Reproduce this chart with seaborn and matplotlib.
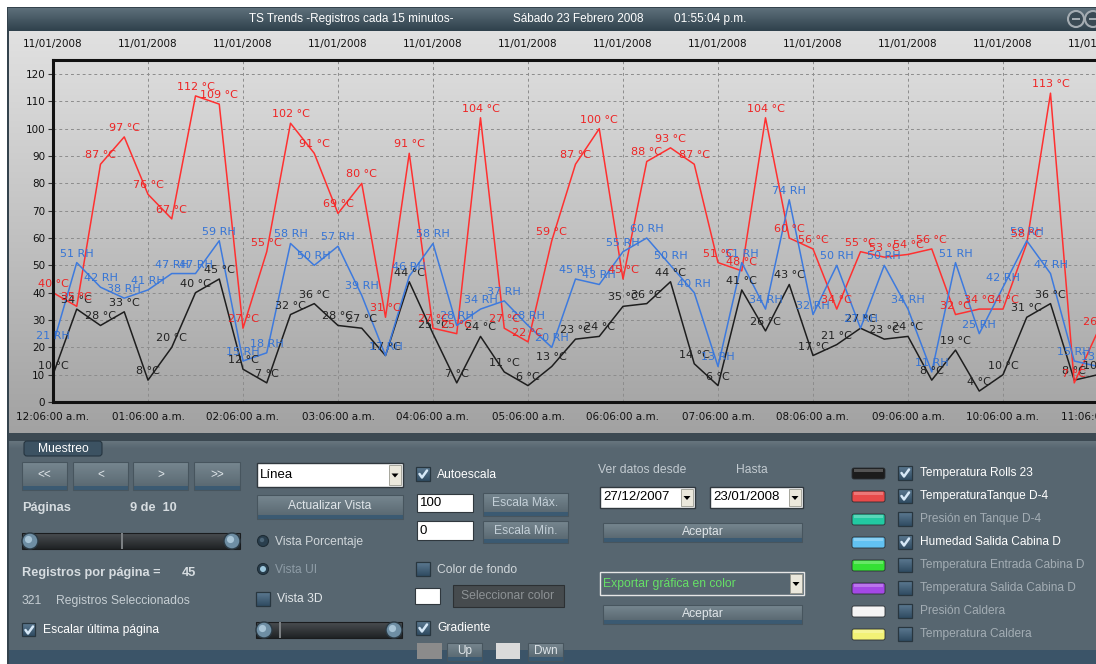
import numpy as np
import pandas as pd
import matplotlib
matplotlib.use("Agg")
import matplotlib.pyplot as plt
import seaborn as sns
from matplotlib.patches import Rectangle, Circle, FancyBboxPatch
from matplotlib.colors import LinearSegmentedColormap

# ---------------- data ----------------
time_labels = ["12:06:00 a.m.", "01:06:00 a.m.", "02:06:00 a.m.", "03:06:00 a.m.",
               "04:06:00 a.m.", "05:06:00 a.m.", "06:06:00 a.m.", "07:06:00 a.m.",
               "08:06:00 a.m.", "09:06:00 a.m.", "10:06:00 a.m.", "11:06:00 a.m."]
date_label = "11/01/2008"
yticks_vals = [0, 10, 20, 30, 40, 50, 60, 70, 80, 90, 100, 110, 120]

temp_rolls = [10, 34, 28, 33, 8, 20, 40, 45, 12, 7, 32, 36, 28, 27, 17, 44, 25, 7, 24, 11,
              6, 13, 23, 24, 35, 36, 44, 14, 6, 41, 26, 43, 17, 21, 27, 23, 24, 8, 19, 4,
              10, 31, 36, 8, 10]
temp_tanque = [40, 35, 87, 97, 76, 67, 112, 109, 27, 55, 102, 91, 69, 80, 31, 91, 27, 25, 104, 27,
               22, 59, 87, 100, 45, 88, 93, 87, 51, 48, 104, 60, 56, 34, 55, 53, 54, 56, 32, 34,
               34, 58, 113, 7, 26]
humedad = [21, 51, 42, 38, 41, 47, 47, 59, 15, 18, 58, 50, 57, 39, 17, 46, 58, 28, 34, 37,
           28, 20, 45, 43, 55, 60, 50, 40, 13, 51, 34, 74, 32, 50, 27, 50, 34, 11, 51, 25,
           42, 59, 47, 15, 13]

legend_names = ["Temperatura Rolls 23", "TemperaturaTanque D-4", "Presión en Tanque D-4",
                "Humedad Salida Cabina D", "Temperatura Entrada Cabina D",
                "Temperatura Salida Cabina D", "Presión Caldera", "Temperatura Caldera"]
legend_checked = [True, True, False, True, False, False, False, False]
legend_colors = ["#1c1c1c", "#e84a4a", "#22c9a2", "#62c2f2", "#34e034", "#a448e6", "#f4f4f4", "#f2f276"]

# ---------------- style ----------------
sns.set_theme(style="white")
plt.rcParams['font.family'] = ['DejaVu Sans']
UI = ['Liberation Sans', 'DejaVu Sans']

W, H = 1096, 664
fig = plt.figure(figsize=(W / 100, H / 100), dpi=100, facecolor="white")

bg = fig.add_axes([0, 0, 1, 1], zorder=0)
bg.axis('off')


def vgrad(x0, y0, x1, y1, c_top, c_bot, z=1):
    cmap = LinearSegmentedColormap.from_list('g', [c_top, c_bot])
    grad = np.linspace(0, 1, 256).reshape(-1, 1)
    bg.imshow(grad, cmap=cmap, extent=(x0, x1, y1, y0), aspect='auto', zorder=z,
              interpolation='bilinear')


def rect(x0, y0, x1, y1, fc, ec='none', lw=0, z=2, alpha=1.0):
    bg.add_patch(Rectangle((x0, y0), x1 - x0, y1 - y0, fc=fc, ec=ec, lw=lw, zorder=z, alpha=alpha))


def txt(x, y, s, size=9, color='white', ha='left', weight='normal', z=5):
    bg.text(x, y, s, fontsize=size, color=color, ha=ha, va='center', fontweight=weight,
            family=UI, zorder=z)


def button(x0, y0, x1, y1, label, tcolor='#dfe5e9', size=9, fc_top='#778790', fc_bot='#5b6a73'):
    vgrad(x0, y0, x1, y1 - 4, fc_top, fc_bot, z=2)
    rect(x0, y1 - 4, x1, y1, '#3b5a72', z=2)
    rect(x0, y0, x1, y1, 'none', ec='#47555e', lw=0.8, z=3)
    txt((x0 + x1) / 2, (y0 + y1) / 2 - 1, label, size=size, color=tcolor, ha='center')


def checkbox(x, y, checked, s=14):
    vgrad(x, y, x + s, y + s, '#5d7a92', '#2f4b61', z=3)
    rect(x, y, x + s, y + s, 'none', ec='#28363f', lw=0.9, z=4)
    if checked:
        bg.plot([x + 3.5, x + 6, x + 11], [y + 7, y + 10.5, y + 3.5], color='#d6e8f7', lw=1.8,
                zorder=5, solid_capstyle='round')


def radio(x, y, selected):
    bg.add_patch(Circle((x, y), 5.5, fc='#2a3f4e', ec='#1e2c35', lw=0.8, zorder=3))
    if selected:
        bg.add_patch(Circle((x, y), 3, fc='#9cc6dc', ec='none', zorder=4))
    else:
        bg.add_patch(Circle((x - 1, y - 1), 2.2, fc='#4b6476', ec='none', zorder=4))


def slider(x0, y0, x1, y1, marks=()):
    vgrad(x0, y0, x1, y1, '#4a4e52', '#1f2224', z=3)
    rect(x0, y0, x1, y1, 'none', ec='#1a1c1e', lw=0.8, z=4)
    r = (y1 - y0) / 2
    cy = (y0 + y1) / 2
    for cx in (x0 + r, x1 - r):
        bg.add_patch(Circle((cx, cy), r, fc='#6e8ea4', ec='#2b3a44', lw=1, zorder=5))
        bg.add_patch(Circle((cx - 1.5, cy - 1.5), r * 0.45, fc='#a8c4d6', ec='none', zorder=6))
    for m in marks:
        rect(m - 1, y0, m + 1, y1, '#7b7f82', z=5)


def textbox(x0, y0, x1, y1, s):
    rect(x0, y0, x1, y1, 'white', ec='#30383e', lw=0.8, z=3)
    txt(x0 + 3, (y0 + y1) / 2, s, size=9.5, color='black')


def dropdown(x0, y0, x1, y1, s, fc='white', tcolor='black', ec='#30383e', size=9.5):
    rect(x0, y0, x1, y1, fc, ec=ec, lw=1, z=3)
    txt(x0 + 3, (y0 + y1) / 2, s, size=size, color=tcolor)
    ax0 = x1 - 14
    rect(ax0, y0 + 2, x1 - 2, y1 - 2, '#ebe8dc', ec='#9a9a90', lw=0.6, z=4)
    cx, cy = (ax0 + x1 - 2) / 2, (y0 + y1) / 2
    bg.add_patch(plt.Polygon([[cx - 3.5, cy - 1.5], [cx + 3.5, cy - 1.5], [cx, cy + 2.5]],
                             fc='black', ec='none', zorder=5))


# ---------------- window chrome ----------------
rect(7, 7, W, H, '#34434d', z=1)
vgrad(8, 8, W, 31, '#5e707b', '#2e404b', z=2)
txt(351, 19, "TS Trends -Registros cada 15 minutos-", size=8.5, ha='center')
txt(578, 19, "Sábado 23 Febrero 2008", size=8.5, ha='center')
txt(710, 19, "01:55:04 p.m.", size=8.5, ha='center')
for cx in (1076, 1093):
    bg.add_patch(Circle((cx, 19), 8, fc='#3a4a54', ec='#a4acb2', lw=1.5, zorder=3))
    rect(cx - 4, 18, cx + 4, 20, '#a4acb2', z=4)

# chart panel
vgrad(9, 31, W, 433, '#e1e1e1', '#a2a2a2', z=2)
rect(9, 433, W, 441, '#3c4952', z=2)
# bottom panel
rect(9, 441, W, 650, '#576670', z=2)
vgrad(9, 441, W, 449, '#67757e', '#576670', z=2)
rect(9, 650, W, H, '#3b5468', z=2)

# tab
bg.add_patch(FancyBboxPatch((24, 441), 78, 15, boxstyle="round,pad=0,rounding_size=3",
                            fc='#3c5262', ec='#263540', lw=0.8, zorder=3))
txt(63, 449, "Muestreo", size=8.7, ha='center')

# left column controls
for x0, x1, lab in [(22, 67, '<<'), (73, 128, '<'), (133, 188, '>'), (194, 240, '>>')]:
    button(x0, 462, x1, 490, lab, size=8.5)
txt(22, 508, "Páginas", size=9.2, color='#d6dce0', weight='bold')
txt(130, 508, "9 de  10", size=9.2, color='#d6dce0', weight='bold')
slider(22, 533, 240, 549, marks=(122,))
txt(22, 573, "Registros por página =", size=9.2, color='#d6dce0', weight='bold')
txt(182, 573, "45", size=9.2, color='#d6dce0', weight='bold')
txt(22, 601, "321", size=8.7, color='#c6ced3')
txt(56, 601, "Registros Seleccionados", size=8.7, color='#c6ced3')
checkbox(22, 623, True, s=13)
txt(43, 630, "Escalar última página", size=8.7, color='white')

# second column
dropdown(257, 463, 403, 487, "Línea")
button(257, 495, 403, 519, "Actualizar Vista", size=8.7)
radio(263, 541, False)
txt(275, 542, "Vista Porcentaje", size=8.7, color='#d0d6da')
radio(263, 569, True)
txt(275, 570, "Vista UI", size=8.7, color='#8e9ca6')
checkbox(256, 592, False)
txt(277, 599, "Vista 3D", size=8.7, color='#e2e7ea')
slider(256, 622, 402, 638, marks=(280,))

# third column
checkbox(416, 467, True)
txt(437, 475, "Autoescala", size=8.7, color='white')
textbox(417, 494, 473, 512, "100")
button(483, 493, 568, 516, "Escala Máx.", tcolor='#c4d0d8', size=8.7)
textbox(417, 521, 473, 540, "0")
button(483, 521, 568, 543, "Escala Mín.", tcolor='#c4d0d8', size=8.7)
checkbox(416, 562, False)
txt(437, 570, "Color de fondo", size=8.7, color='#d0d6da')
rect(415, 588, 440, 604, 'white', ec='#30383e', lw=0.8, z=3)
rect(453, 585, 564, 607, '#464b4e', ec='#2c3033', lw=0.8, z=3)
txt(508, 596, "Seleccionar color", size=8.7, color='#8d9295', ha='center')
checkbox(416, 621, True)
txt(437, 628, "Gradiente", size=8.7, color='white')
rect(417, 643, 442, 659, '#8b8b8b', z=3)
button(447, 643, 482, 661, "Up", size=8.5)
rect(496, 643, 520, 659, '#dadada', z=3)
button(528, 643, 563, 661, "Dwn", size=8.5)

# fourth column
txt(598, 470, "Ver datos desde", size=8.7, color='#c2cad0')
txt(752, 470, "Hasta", size=8.7, color='#c2cad0', ha='center')
dropdown(600, 487, 695, 508, "27/12/2007")
dropdown(710, 487, 803, 508, "23/01/2008")
button(603, 523, 802, 542, "Aceptar", size=8.7)
dropdown(600, 572, 804, 595, "Exportar gráfica en color", fc='#576670', tcolor='#66e066',
         ec='#e6e6e6', size=8.7)
button(603, 605, 802, 624, "Aceptar", size=8.7)

# legend column
rows_y = [473, 496, 519, 542, 565, 588, 611, 634]
for yy, name, chk, col in zip(rows_y, legend_names, legend_checked, legend_colors):
    bg.add_patch(FancyBboxPatch((852, yy - 5), 33, 11, boxstyle="round,pad=0,rounding_size=2",
                                fc=col, ec='#2a2f33', lw=0.6, zorder=3))
    rect(854, yy - 4, 883, yy - 1.5, 'white', z=4, alpha=0.25)
    checkbox(898, yy - 7, chk)
    txt(920, yy, name, size=8.6, color='white' if chk else '#a3adb4')

bg.set_xlim(0, W)
bg.set_ylim(H, 0)

# ---------------- chart ----------------
px_per_pt = 23.75      # pixels per 15-minute record
px_per_unit = 2.733    # pixels per y unit
ax_left, ax_right, ax_top, ax_bot = 53, 1110, 60, 402
ax = fig.add_axes([ax_left / W, 1 - ax_bot / H, (ax_right - ax_left) / W, (ax_bot - ax_top) / H],
                  zorder=2)
ax.set_facecolor('none')

n = len(temp_rolls)
idx = np.arange(n)
df = pd.DataFrame({"registro": idx, "Temperatura Rolls 23": temp_rolls,
                   "TemperaturaTanque D-4": temp_tanque, "Humedad Salida Cabina D": humedad})
long = df.melt(id_vars="registro", var_name="serie", value_name="valor")
line_colors = {"Temperatura Rolls 23": "#1e1e1e", "TemperaturaTanque D-4": "#ff3030",
               "Humedad Salida Cabina D": "#3d7ade"}
sns.lineplot(data=long, x="registro", y="valor", hue="serie", palette=line_colors,
             estimator=None, legend=False, linewidth=1.1, ax=ax)

label_specs = [(temp_rolls, " °C", "#222222"), (humedad, " RH", "#3574d6"),
               (temp_tanque, " °C", "#ee2424")]
for vals, unit, col in label_specs:
    for i, v in enumerate(vals):
        ax.annotate(f"{v}{unit}", (i, v), xytext=(0, 6.5), textcoords='offset points',
                    ha='center', va='center', fontsize=8, color=col, zorder=5)

ax.set_xlim(0, (ax_right - ax_left) / px_per_pt)
ax.set_ylim(0, (ax_bot - ax_top) / px_per_unit)
hour_pos = list(range(0, n, 4))
ax.set_xticks(hour_pos)
ax.set_xticklabels(time_labels)
ax.set_yticks(yticks_vals)
ax.set_yticklabels([str(v) for v in yticks_vals])
ax.set_xlabel("")
ax.set_ylabel("")
ax.grid(True, color='#8c8c8c', linestyle=(0, (3, 3)), linewidth=0.7)
ax.tick_params(axis='x', length=0, pad=7, labelsize=7.5, labelcolor='#111111')
ax.tick_params(axis='y', length=3.5, width=0.8, color='#333333', pad=2, labelsize=7.5,
               labelcolor='#111111', left=True)
for side in ('left', 'top', 'bottom'):
    ax.spines[side].set_visible(True)
    ax.spines[side].set_color('#111111')
    ax.spines[side].set_linewidth(2.2)
ax.spines['right'].set_visible(False)

sec = ax.secondary_xaxis('top')
sec.set_xticks(hour_pos)
sec.set_xticklabels([date_label] * len(hour_pos))
sec.tick_params(length=0, pad=8, labelsize=7.5, labelcolor='#111111')
sec.spines['top'].set_visible(False)

fig.savefig("out.png", dpi=100, facecolor="white")
